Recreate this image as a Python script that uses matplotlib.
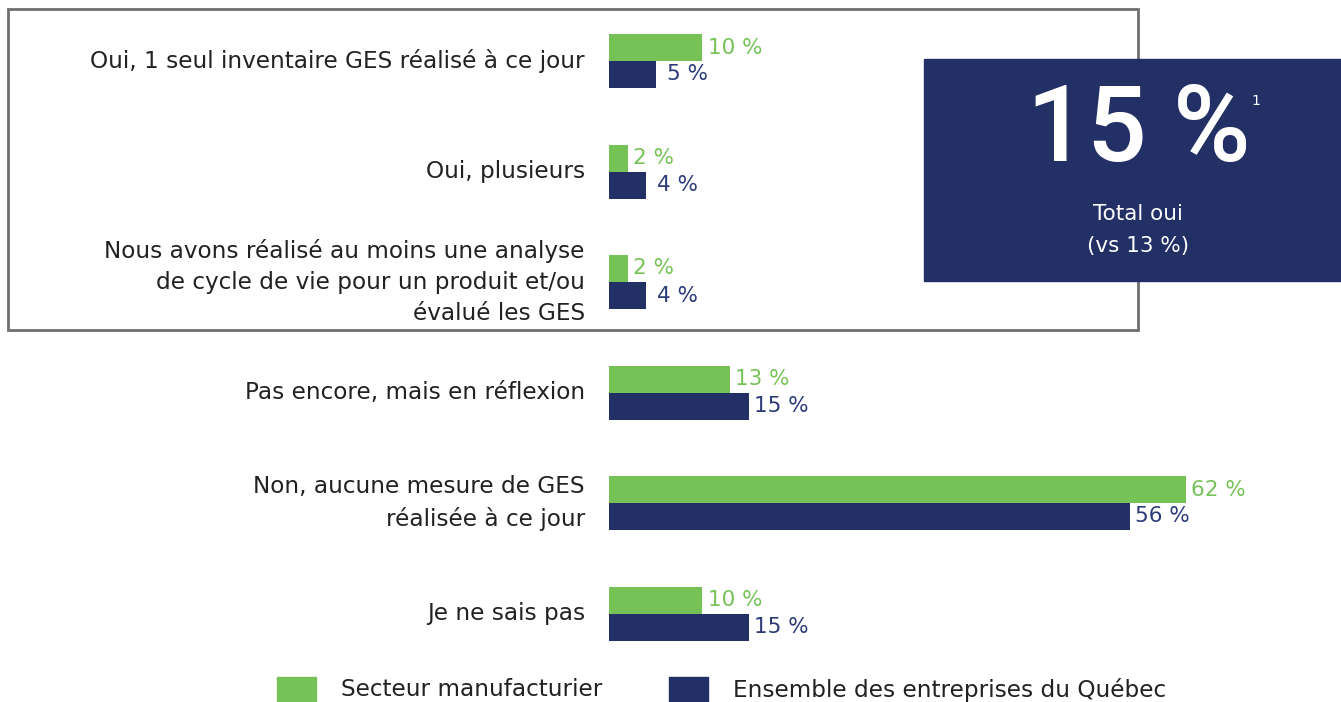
import numpy as np
import matplotlib
matplotlib.use("Agg")
from matplotlib import pyplot as plt
from matplotlib.patches import Rectangle

plt.rcParams['font.family'] = ['DejaVu Sans']

# Data
categories = [
    "Oui, 1 seul inventaire GES réalisé à ce jour",
    "Oui, plusieurs",
    "Nous avons réalisé au moins une analyse\nde cycle de vie pour un produit et/ou\névalué les GES",
    "Pas encore, mais en réflexion",
    "Non, aucune mesure de GES\nréalisée à ce jour",
    "Je ne sais pas",
]
manufacturier = [10, 2, 2, 13, 62, 10]
quebec = [5, 4, 4, 15, 56, 15]
series_names = ["Secteur manufacturier", "Ensemble des entreprises du Québec"]

green = "#76C257"
navy = "#233065"
navy_txt = "#2B3A78"

W, H = 1341, 702
fig = plt.figure(figsize=(W / 100, H / 100), dpi=100)

# main chart axes: 0 % at x=609 px, 9.3 px per %
x0 = 609
ax = fig.add_axes([x0 / W, 0, 1 - x0 / W, 1])
ax.set_xlim(0, (W - x0) / 9.3)
step = 110.5
top = 61
ax.set_ylim((H - top) / step, -top / step)
ax.axis("off")

y = np.arange(len(categories))
h = 27 / step
ax.barh(y - h / 2, manufacturier, height=h, color=green)
ax.barh(y + h / 2, quebec, height=h, color=navy)

for i, (a, b) in enumerate(zip(manufacturier, quebec)):
    ax.text(a + 0.6, y[i] - h / 2, f"{a} %", color=green, fontsize=15.5,
            va="center", ha="left")
    # single-digit navy labels sit a little further from the bar
    pad = 1.2 if b < 10 else 0.6
    ax.text(b + pad, y[i] + h / 2, f"{b} %", color=navy_txt, fontsize=15.5,
            va="center", ha="left")
    ax.text(-2.6, y[i], categories[i], fontsize=16.7, va="center", ha="right",
            color="#222222", linespacing=1.47)

# overlay axes in pixel coordinates for decorations
ov = fig.add_axes([0, 0, 1, 1], zorder=5)
ov.set_xlim(0, W)
ov.set_ylim(H, 0)
ov.axis("off")
ov.patch.set_alpha(0)

ov.add_patch(Rectangle((8, 9), 1130, 321, fill=False, edgecolor="#707070", lw=2))
ov.add_patch(Rectangle((924, 59), 417, 222, color=navy))
ov.text(1139, 133, "15 %", color="white", fontsize=76, ha="center", va="center",
        family=["Roboto", "DejaVu Sans"], fontweight="medium")
ov.text(1256, 101, "1", color="white", fontsize=10, ha="center", va="center")
ov.text(1138, 214, "Total oui", color="white", fontsize=15.5, ha="center", va="center")
ov.text(1138, 246, "(vs 13 %)", color="white", fontsize=15.5, ha="center", va="center")

# legend
ov.add_patch(Rectangle((277, 677), 39, 30, color=green))
ov.text(341, 690, series_names[0], fontsize=16.7, va="center", ha="left", color="#222222")
ov.add_patch(Rectangle((669, 677), 39, 30, color=navy))
ov.text(733, 690, series_names[1], fontsize=16.7, va="center", ha="left", color="#222222")

fig.savefig("out.png", dpi=100)
